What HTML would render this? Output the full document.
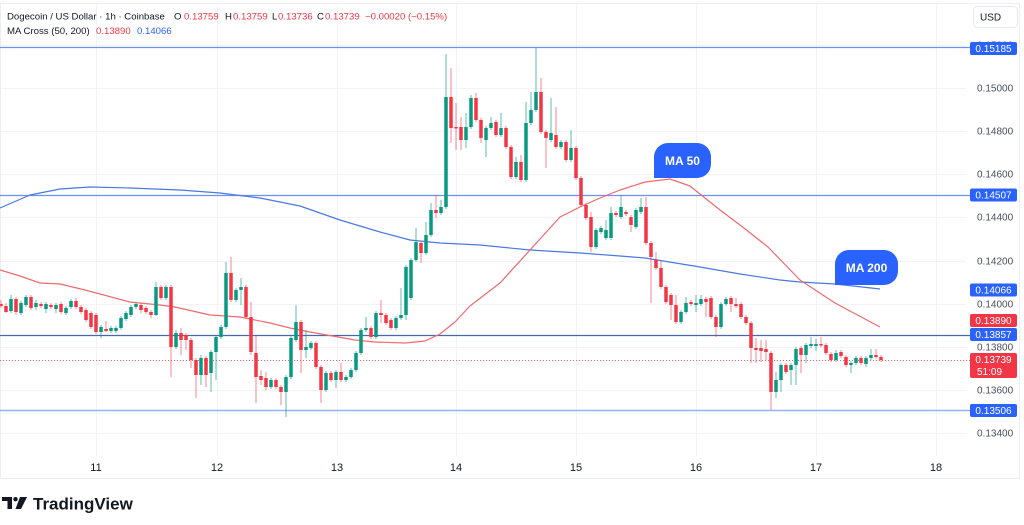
<!DOCTYPE html>
<html><head><meta charset="utf-8"><style>
html,body{margin:0;padding:0;background:#fff;}
svg{display:block;font-family:"Liberation Sans",sans-serif;}
</style></head><body>
<svg width="1024" height="525" viewBox="0 0 1024 525" xmlns="http://www.w3.org/2000/svg">
<rect x="0" y="0" width="1024" height="525" fill="#fff"/>
<!-- frame -->
<rect x="0.5" y="3.5" width="1019" height="475" fill="none" stroke="#eceef2" stroke-width="1"/>
<!-- grid -->
<g stroke="#f1f3f6" stroke-width="1">
<path d="M96.5 4V456M217.5 4V456M337.5 4V456M456.5 4V456M576.5 4V456M696.5 4V456M816.5 4V456M936.5 4V456"/>
<path d="M1 45.5H966M1 88.5H966M1 131.5H966M1 174.5H966M1 217.5H966M1 261.5H966M1 304.5H966M1 347.5H966M1 390.5H966M1 433.5H966"/>
</g>
<!-- level lines -->
<path d="M0 47.5H970M0 195.5H970" stroke="#6a90f0" stroke-width="1.2"/>
<path d="M0 335.5H970" stroke="#4a67ad" stroke-width="1.2"/>
<path d="M0 410.5H970" stroke="#93b3f7" stroke-width="1.6"/>
<path d="M0 360.5H970" stroke="#f23645" stroke-width="1" stroke-dasharray="1 2" opacity="0.8"/>
<!-- MA lines -->
<polyline fill="none" stroke="#4a78e4" stroke-width="1.2" stroke-linejoin="round" points="0,208 30,195 60,189 90,187 130,188 180,190 220,193 260,198 300,206 340,220 380,232 410,240 440,243 480,245 530,250 580,253 620,256 645,258 700,267 740,274 780,280 800,282 835,284 880,289"/>
<polyline fill="none" stroke="#f06a6e" stroke-width="1.2" stroke-linejoin="round" points="0,270 20,276 40,283 60,284 85,290 130,302 160,305 175,307 210,315 240,317 270,323 290,328 310,332 355,340 375,342 405,343 425,341 440,334 455,322 470,306 500,283 530,250 560,217 580,207 600,198 620,190 645,182 670,179 690,186 720,210 740,225 768,247 800,280 835,303 880,327"/>
<!-- candles -->
<path fill="none" stroke="#089981" stroke-width="1" opacity="0.65" d="M11 295V313M21 301V315M26 295V307M36 300V310M46 302V313M56 303V313M66 306V315M71 299V309M101 325V338M111 326V333M116 326V333M121 316V330M126 311V321M131 305V317M136 302V309M156 282V316M166 285V300M176 330V349M201 355V385M211 350V392M216 335V380M221 325V339M226 262V329M236 288V302M241 278V305M271 378V389M286 375V417M291 336V379M296 305V342M306 330V358M311 341V350M326 371V392M336 370V388M346 375V382M351 368V379M356 351V372M361 328V355M366 317V332M376 311V339M396 316V330M401 288V320M406 265V320M411 258V300M416 228V262M426 222V255M431 203V237M441 200V215M446 54V209M466 113V148M471 95V129M486 126V157M491 117V130M501 113V137M516 157V179M526 102V182M531 92V125M536 48V112M551 98V142M561 140V149M571 130V162M596 228V249M601 226V234M606 220V240M611 207V240M621 195V219M636 208V229M641 198V214M681 310V324M686 297V314M696 295V312M701 295V306M721 302V329M726 297V306M776 372V398M781 363V392M791 363V385M796 347V385M806 343V363M811 337V348M816 339V351M836 350V362M851 361V373M856 356V365M866 356V367M871 349V360"/>
<path fill="none" stroke="#f23645" stroke-width="1" opacity="0.6" d="M1 300V308M6 303V313M16 297V315M31 295V310M41 302V308M51 303V309M61 302V314M76 298V309M81 305V314M86 308V322M91 311V329M96 313V334M106 321V332M141 303V313M146 306V314M151 310V318M161 285V300M171 285V377M181 328V355M186 333V350M191 338V368M196 358V398M206 356V387M231 257V302M246 285V319M251 302V355M256 335V403M261 370V385M266 372V390M276 378V389M281 385V405M301 320V373M316 341V369M321 365V403M331 371V382M341 363V382M371 326V339M381 300V323M386 313V325M391 318V330M421 241V263M436 195V218M451 68V143M456 103V150M461 117V150M476 93V122M481 118V143M496 120V137M506 126V149M511 145V179M521 155V182M541 78V134M546 130V168M556 107V149M566 140V162M576 146V180M581 176V207M586 203V220M591 212V252M616 211V217M626 210V216M631 215V232M646 197V245M651 241V303M656 252V270M661 260V289M666 285V304M671 293V320M676 295V324M691 300V306M706 297V317M711 296V319M716 315V337M731 296V312M736 298V308M741 302V319M746 315V325M751 321V363M756 338V363M761 340V362M766 340V360M771 351V410M786 363V374M801 346V373M821 337V347M826 343V355M831 352V362M841 350V358M846 355V367M861 356V365M876 349V359M881 355V362"/>
<path fill="none" stroke="#089981" stroke-width="3.5" d="M11 299V311M21 303V313M26 297V305M36 303V307M46 304V309M56 305V309M66 308V313M71 301V307M101 327V332M111 328V331M116 328V331M121 318V328M126 313V319M131 307V315M136 304V307M156 287V315M166 287V298M176 333V347M201 358V375M211 352V373M216 337V352M221 327V337M226 273V327M236 290V300M241 287V290M271 380V387M286 377V392M291 338V377M296 322V340M306 347V350M311 343V348M326 373V390M336 372V380M346 377V380M351 370V377M356 353V370M361 330V353M366 328V330M376 313V337M396 318V328M401 315V318M406 267V315M411 260V298M416 242V260M426 235V253M431 210V235M441 207V213M446 97V207M466 127V140M471 98V127M486 128V140M491 123V128M501 128V135M516 162V177M526 123V180M531 110V123M536 92V110M551 133V140M561 142V147M571 148V160M596 230V247M601 228V232M606 230V238M611 213V238M621 207V217M636 210V227M641 207V212M681 312V322M686 303V312M696 303V305M701 299V304M721 304V327M726 299V304M776 380V392M781 365V380M791 365V370M796 349V365M806 345V355M811 344V346M816 344V346M836 353V360M851 363V365M856 358V363M866 358V364M871 355V358"/>
<path fill="none" stroke="#f23645" stroke-width="3.5" d="M1 304V306M6 306V312M16 299V312M31 297V308M41 304V306M51 305V307M61 304V312M76 301V307M81 307V312M86 310V320M91 313V327M96 315V332M106 329V331M141 305V310M146 308V312M151 312V315M161 287V298M171 287V347M181 333V340M186 335V340M191 340V360M196 360V375M206 358V375M231 273V300M246 287V317M251 317V352M256 353V377M261 376V380M266 378V387M276 380V387M281 387V392M301 322V350M316 343V367M321 367V390M331 373V380M341 372V380M371 328V337M381 313V315M386 315V323M391 320V328M421 243V253M436 210V213M451 97V128M456 127V128.5M461 127V140M476 98V120M481 120V138M496 122V135M506 128V147M511 147V177M521 162V180M541 92V132M546 132V138M556 135V147M566 142V160M576 148V178M581 178V205M586 205V218M591 217V247M616 213V215M626 212V214M631 217V225M646 207V243M651 243V257M656 260V268M661 268V287M666 287V302M671 295V305M676 305V322M691 302V304M706 299V302M711 298V317M716 317V327M731 298V304M736 304V306M741 304V317M746 317V323M751 323V348M756 348V350M761 348V351M766 349V352M771 353V392M786 365V372M801 348V355M821 344V345.5M826 345V353M831 354V360M841 352V356M846 357V365M861 358V363M876 355V357M881 357V360"/>
<!-- MA labels -->
<path d="M654 178V157A14 14 0 0 1 668 143H697A14 14 0 0 1 711 157V164A14 14 0 0 1 697 178Z" fill="#2962ff"/>
<text x="682.5" y="165" fill="#fff" font-size="12" font-weight="bold" text-anchor="middle">MA 50</text>
<path d="M835 285V264A14 14 0 0 1 849 250H884A14 14 0 0 1 898 264V271A14 14 0 0 1 884 285Z" fill="#2962ff"/>
<text x="866.5" y="272" fill="#fff" font-size="12" font-weight="bold" text-anchor="middle">MA 200</text>
<!-- header -->
<g font-size="9.6" fill="#131722">
<text x="7" y="19.5">Dogecoin / US Dollar · 1h · Coinbase</text>
<text x="174" y="19.5">O</text><text x="184" y="19.5" fill="#f23645">0.13759</text>
<text x="225" y="19.5">H</text><text x="233" y="19.5" fill="#f23645">0.13759</text>
<text x="272" y="19.5">L</text><text x="278" y="19.5" fill="#f23645">0.13736</text>
<text x="317" y="19.5">C</text><text x="325" y="19.5" fill="#f23645">0.13739</text>
<text x="365" y="19.5" fill="#f23645">−0.00020 (−0.15%)</text>
<text x="7" y="34">MA Cross (50, 200)</text>
<text x="96" y="34" fill="#f23645">0.13890</text>
<text x="137" y="34" fill="#2962ff">0.14066</text>
</g>
<!-- USD -->
<rect x="973.5" y="6.5" width="44" height="21" rx="4" fill="#fff" stroke="#e6e8ec"/>
<text x="980" y="20.5" font-size="10" fill="#131722">USD</text>
<!-- price axis -->
<g font-size="10" fill="#4a4e59">
<text x="977" y="48.5">0.15200</text>
<text x="977" y="91.5">0.15000</text>
<text x="977" y="134.5">0.14800</text>
<text x="977" y="177.5">0.14600</text>
<text x="977" y="220.5">0.14400</text>
<text x="977" y="264.5">0.14200</text>
<text x="977" y="307.5">0.14000</text>
<text x="977" y="350.5">0.13800</text>
<text x="977" y="393.5">0.13600</text>
<text x="977" y="436.5">0.13400</text>
</g>
<g font-size="10" fill="#fff">
<rect x="970" y="42" width="47" height="13" rx="2" fill="#2962ff"/><text x="993.5" y="52" text-anchor="middle">0.15185</text>
<rect x="970" y="188.5" width="47" height="13" rx="2" fill="#2962ff"/><text x="993.5" y="198.5" text-anchor="middle">0.14507</text>
<rect x="970" y="283.5" width="47" height="13" rx="2" fill="#2962ff"/><text x="993.5" y="293.5" text-anchor="middle">0.14066</text>
<rect x="970" y="314" width="47" height="13" rx="2" fill="#f23645"/><text x="993.5" y="324" text-anchor="middle">0.13890</text>
<rect x="970" y="328" width="47" height="13" rx="2" fill="#2962ff"/><text x="993.5" y="338" text-anchor="middle">0.13857</text>
<rect x="970" y="353" width="47" height="25" rx="2" fill="#f23645"/><text x="993.5" y="363" text-anchor="middle">0.13739</text><text x="977" y="375">51:09</text>
<rect x="970" y="404" width="47" height="13" rx="2" fill="#2962ff"/><text x="993.5" y="414" text-anchor="middle">0.13506</text>
</g>
<!-- time axis -->
<g font-size="11" fill="#131722" text-anchor="middle">
<text x="96" y="471">11</text><text x="217" y="471">12</text><text x="337" y="471">13</text><text x="456" y="471">14</text>
<text x="576" y="471">15</text><text x="696" y="471">16</text><text x="816" y="471">17</text><text x="936" y="471">18</text>
</g>
<!-- logo -->
<g fill="#131722">
<path d="M2 497H12V509H7.5V501H2Z"/>
<circle cx="15.5" cy="499.2" r="2.2"/>
<path d="M20 497H27L21 509H15.5Z"/>
<text x="33" y="509.5" font-size="17" font-weight="bold">TradingView</text>
</g>
</svg>
</body></html>
